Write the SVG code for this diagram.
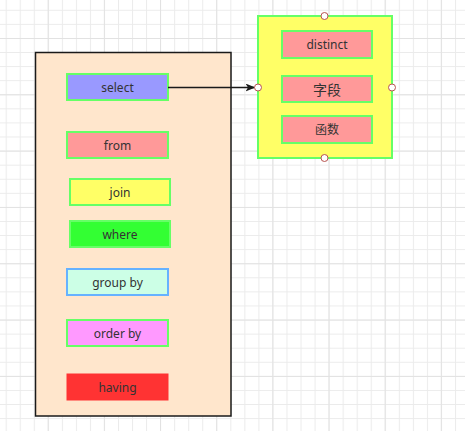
<svg xmlns="http://www.w3.org/2000/svg" width="465" height="431" viewBox="0 0 465 431">
  <defs>
    <pattern id="grid" x="5.7" y="9.8" width="14.04" height="14.08" patternUnits="userSpaceOnUse">
      <path d="M0 0.5 H14.04 M0.5 0 V14.08" fill="none" stroke="#ebebeb" stroke-width="1"/>
    </pattern>
    <pattern id="gridMajor" x="47.7" y="38" width="56.16" height="56.32" patternUnits="userSpaceOnUse">
      <path d="M0 0.5 H56.16 M0.5 0 V56.32" fill="none" stroke="#e2e2e2" stroke-width="1"/>
    </pattern>
    <marker id="arrow" markerWidth="10" markerHeight="8" refX="9" refY="4" orient="auto" markerUnits="userSpaceOnUse">
      <path d="M0 0 L10 4 L0 8 L2.5 4 Z" fill="#1a1a1a"/>
    </marker>
  </defs>
  <style>
    .box { stroke: #66ff66; stroke-width: 2; }
    .lbl { font-family: "Noto Sans", "Noto Sans CJK SC", sans-serif; font-size: 12px; fill: #333333; text-anchor: middle; dominant-baseline: central; }
    .port { fill: #ffffff; stroke: #b85450; stroke-width: 1; }
  </style>
  <rect width="465" height="431" fill="#ffffff"/>
  <rect width="465" height="431" fill="url(#grid)"/>
  <rect width="465" height="431" fill="url(#gridMajor)"/>

  <g id="container-left">
    <rect x="35.5" y="52.5" width="195.5" height="363.5" fill="#ffe6cc" stroke="#1a1a1a" stroke-width="1.5"/>
  </g>

  <g id="node-select">
    <rect class="box" x="67" y="74" width="101" height="26" fill="#9999ff"/>
    <text class="lbl" x="117.5" y="87">select</text>
  </g>
  <g id="node-from">
    <rect class="box" x="67" y="132" width="101" height="26" fill="#ff9999"/>
    <text class="lbl" x="117.5" y="145">from</text>
  </g>
  <g id="node-join">
    <rect class="box" x="70" y="179" width="100" height="26" fill="#ffff66"/>
    <text class="lbl" x="120" y="192">join</text>
  </g>
  <g id="node-where">
    <rect class="box" x="70" y="221" width="100" height="26" fill="#33ff33" stroke="#66ff66"/>
    <text class="lbl" x="120" y="234">where</text>
  </g>
  <g id="node-groupby">
    <rect x="67" y="269" width="101" height="26" fill="#ccffe6" stroke="#66b2ff" stroke-width="2"/>
    <text class="lbl" x="117.5" y="282">group by</text>
  </g>
  <g id="node-orderby">
    <rect class="box" x="67" y="320" width="101" height="26" fill="#ff99ff"/>
    <text class="lbl" x="117.5" y="333">order by</text>
  </g>
  <g id="node-having">
    <rect x="67" y="374" width="101" height="26" fill="#ff3333" stroke="#ff3333" stroke-width="1"/>
    <text class="lbl" x="117.5" y="387">having</text>
  </g>

  <g id="container-right">
    <rect class="box" x="258" y="16" width="134" height="142" fill="#ffff66"/>
  </g>
  <g id="node-distinct">
    <rect class="box" x="282" y="31" width="90" height="27" fill="#ff9999"/>
    <text class="lbl" x="327" y="44.5">distinct</text>
  </g>
  <g id="node-field">
    <rect class="box" x="282" y="76" width="90" height="26" fill="#ff9999"/>
    <text class="lbl" x="327" y="89" style="font-size:14px">字段</text>
  </g>
  <g id="node-func">
    <rect class="box" x="282" y="116" width="90" height="27" fill="#ff9999"/>
    <text class="lbl" x="327" y="129.5">函数</text>
  </g>

  <g id="connectors">
    <line x1="168" y1="87.5" x2="254.5" y2="87.5" stroke="#1a1a1a" stroke-width="1.5" marker-end="url(#arrow)"/>
  </g>

  <g id="ports">
    <circle class="port" cx="324.5" cy="16" r="3.5"/>
    <circle class="port" cx="324.5" cy="158" r="3.5"/>
    <circle class="port" cx="258" cy="87.5" r="3.5"/>
    <circle class="port" cx="392" cy="87.5" r="3.5"/>
  </g>
</svg>
